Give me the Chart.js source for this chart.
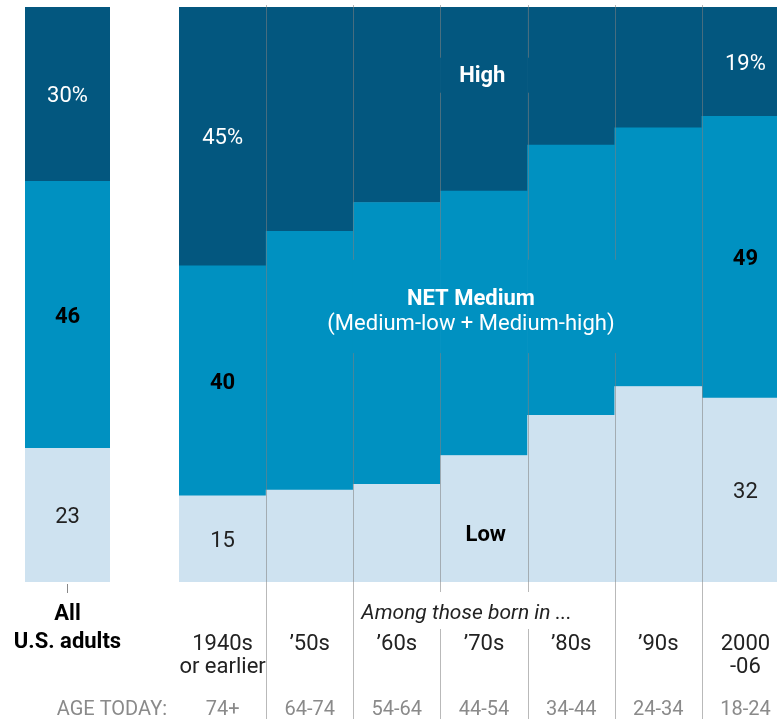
<!DOCTYPE html>
<html>
<head>
<meta charset="utf-8">
<script src="https://cdn.jsdelivr.net/npm/chart.js@4.4.1/dist/chart.umd.min.js"></script>
<style>
  html, body { margin: 0; padding: 0; background: #fff; overflow: hidden; }
  #wrap { position: relative; width: 777px; height: 719px; overflow: hidden; }
  #allBox { position: absolute; left: 0; top: 0; width: 179px; height: 719px; }
  #cohortBox { position: absolute; left: 179px; top: 0; width: 610px; height: 719px; }
</style>
</head>
<body>
<div id="wrap">
  <div id="allBox"><canvas id="allChart"></canvas></div>
  <div id="cohortBox"><canvas id="cohortChart"></canvas></div>
</div>
<script>
// ---- data: all adults
const allLabel = ['All', 'U.S. adults'];
const allHigh = [30];
const allMedium = [46];
const allLow = [23];

// ---- data: by generation
const cohorts = [['1940s', 'or earlier'], ['\u201950s'], ['\u201960s'], ['\u201970s'], ['\u201980s'], ['\u201990s'], ['2000', '-06']];
const ageToday = ['74+', '64-74', '54-64', '44-54', '34-44', '24-34', '18-24'];
const high = [45, 39, 34, 32, 24, 21, 19];
const medium = [40, 45, 49, 46, 47, 45, 49];
const low = [15, 16, 17, 22, 29, 34, 32];

const C_HIGH = '#03577f';
const C_MED = '#0091c1';
const C_LOW = '#cee2f0';
const FONT = 'Roboto, "Liberation Sans", Arial, sans-serif';

// stacked to 100% (all-adults row rounds to 99)
function shares(part, a, b, c) {
  return part.map((v, i) => v / (a[i] + b[i] + c[i]) * 100);
}

function makeSets(h, m, l) {
  return [
    { label: 'Low', data: shares(l, h, m, l), backgroundColor: C_LOW },
    { label: 'Medium', data: shares(m, h, m, l), backgroundColor: C_MED },
    { label: 'High', data: shares(h, h, m, l), backgroundColor: C_HIGH }
  ].map(d => Object.assign(d, { borderWidth: 0, categoryPercentage: 1, barPercentage: 1 }));
}

function baseOptions(pad) {
  return {
    responsive: true,
    maintainAspectRatio: false,
    animation: false,
    layout: { padding: pad },
    plugins: { legend: { display: false }, tooltip: { enabled: false } },
    scales: {
      x: { stacked: true, display: false },
      y: { stacked: true, display: false, min: 0, max: 100 }
    }
  };
}

function txt(ctx, s, x, y, size, weight, color, align, style) {
  ctx.font = (style || 'normal') + ' ' + (weight || 'normal') + ' ' + size + 'px ' + FONT;
  ctx.fillStyle = color;
  ctx.textAlign = align || 'center';
  ctx.textBaseline = 'alphabetic';
  ctx.fillText(s, x, y);
  return ctx.measureText(s).width;
}

// value labels centred in a segment
function segLabels(chart, idx, vals) {
  const ctx = chart.ctx;
  const styles = [
    { w: 'normal', c: '#222' },
    { w: 'bold', c: '#000' },
    { w: 'normal', c: '#fff' }
  ];
  [low, medium, high].forEach((_, k) => {
    const el = chart.getDatasetMeta(k).data[idx];
    const cy = (el.y + el.base) / 2;
    const s = vals[k];
    txt(ctx, s, el.x, cy + 8, 22, styles[k].w, styles[k].c);
  });
}

// ---- left chart: all adults
const allPlugin = {
  id: 'allText',
  afterDatasetsDraw(chart) {
    const ctx = chart.ctx;
    const area = chart.chartArea;
    segLabels(chart, 0, [String(allLow[0]), String(allMedium[0]), allHigh[0] + '%']);
    const cx = chart.scales.x.getPixelForValue(0);
    ctx.save();
    ctx.strokeStyle = '#888';
    ctx.lineWidth = 1;
    ctx.beginPath();
    ctx.moveTo(Math.round(cx) - 0.5, area.bottom + 2);
    ctx.lineTo(Math.round(cx) - 0.5, area.bottom + 11);
    ctx.stroke();
    ctx.restore();
    txt(ctx, allLabel[0], cx, area.bottom + 38, 22, 'bold', '#000');
    txt(ctx, allLabel[1], cx, area.bottom + 66, 22, 'bold', '#000');
    txt(ctx, 'AGE TODAY:', 167, area.bottom + 133, 20, 'normal', '#8a8a8a', 'right');
  }
};

new Chart(document.getElementById('allChart'), {
  type: 'bar',
  data: { labels: [allLabel], datasets: makeSets(allHigh, allMedium, allLow) },
  options: baseOptions({ left: 25, right: 69, top: 7, bottom: 137 }),
  plugins: [allPlugin]
});

// ---- right chart: generations
const cohortPlugin = {
  id: 'cohortText',
  afterDatasetsDraw(chart) {
    const ctx = chart.ctx;
    const area = chart.chartArea;
    const xs = chart.scales.x;
    const ys = chart.scales.y;
    const H = chart.height;
    const gaps = [];

    // callout labels (measure first so grid lines can break around them)
    ctx.font = 'bold 22px ' + FONT;
    const hx = xs.getPixelForValue(2.98), hy = ys.getPixelForValue(88.4);
    const hw = ctx.measureText('High').width;
    gaps.push({ x1: hx - hw / 2 - 26, x2: hx + hw / 2 + 26, y1: hy - 16, y2: hy + 19 });

    const mx = xs.getPixelForValue(2.85);
    const m1 = ys.getPixelForValue(49.6), m2 = ys.getPixelForValue(45.2);
    ctx.font = 'normal 22px ' + FONT;
    const mw = ctx.measureText('(Medium-low + Medium-high)').width;
    gaps.push({ x1: mx - mw / 2 - 3, x2: mx + mw / 2 + 3, y1: m1 - 37, y2: m2 + 31 });

    const ax = xs.getPixelForValue(2.8), ay = area.bottom + 37;
    ctx.font = 'italic normal 21px ' + FONT;
    const aw = ctx.measureText('Among those born in ...').width;
    gaps.push({ x1: ax - aw / 2 - 4, x2: ax + aw / 2 + 4, y1: ay - 27, y2: ay + 10 });

    // column separators
    ctx.save();
    ctx.strokeStyle = 'rgba(128,128,128,0.55)';
    ctx.lineWidth = 1;
    for (let i = 1; i < cohorts.length; i++) {
      const x = Math.round(xs.getPixelForValue(i - 0.5)) + 0.5;
      let segs = [[area.top - 2, H]];
      gaps.forEach(g => {
        if (x < g.x1 || x > g.x2) return;
        const out = [];
        segs.forEach(([a, b]) => {
          if (g.y2 <= a || g.y1 >= b) { out.push([a, b]); return; }
          if (g.y1 > a) out.push([a, g.y1]);
          if (g.y2 < b) out.push([g.y2, b]);
        });
        segs = out;
      });
      ctx.beginPath();
      segs.forEach(([a, b]) => { ctx.moveTo(x, a); ctx.lineTo(x, b); });
      ctx.stroke();
    }
    ctx.restore();

    // values on first and last columns
    [0, cohorts.length - 1].forEach(i => {
      segLabels(chart, i, [String(low[i]), String(medium[i]), high[i] + '%']);
    });

    txt(ctx, 'High', hx, hy + 8, 22, 'bold', '#fff');
    txt(ctx, 'NET Medium', mx, m1 + 8, 22, 'bold', '#fff');
    txt(ctx, '(Medium-low + Medium-high)', mx, m2 + 8, 22, 'normal', '#fff');
    txt(ctx, 'Low', xs.getPixelForValue(3.02), ys.getPixelForValue(8.6) + 8, 22, 'bold', '#000');
    txt(ctx, 'Among those born in ...', ax, ay, 21, 'normal', '#222', 'center', 'italic');

    // category + age rows
    cohorts.forEach((lines, i) => {
      const cx = xs.getPixelForValue(i);
      lines.forEach((s, k) => txt(ctx, s, cx, area.bottom + 68 + k * 23, 22, 'normal', '#222'));
      txt(ctx, ageToday[i], cx, area.bottom + 133, 20, 'normal', '#8a8a8a');
    });
  }
};

new Chart(document.getElementById('cohortChart'), {
  type: 'bar',
  data: { labels: cohorts, datasets: makeSets(high, medium, low) },
  options: baseOptions({ left: 0, right: 0, top: 7, bottom: 137 }),
  plugins: [cohortPlugin]
});
</script>
</body>
</html>
